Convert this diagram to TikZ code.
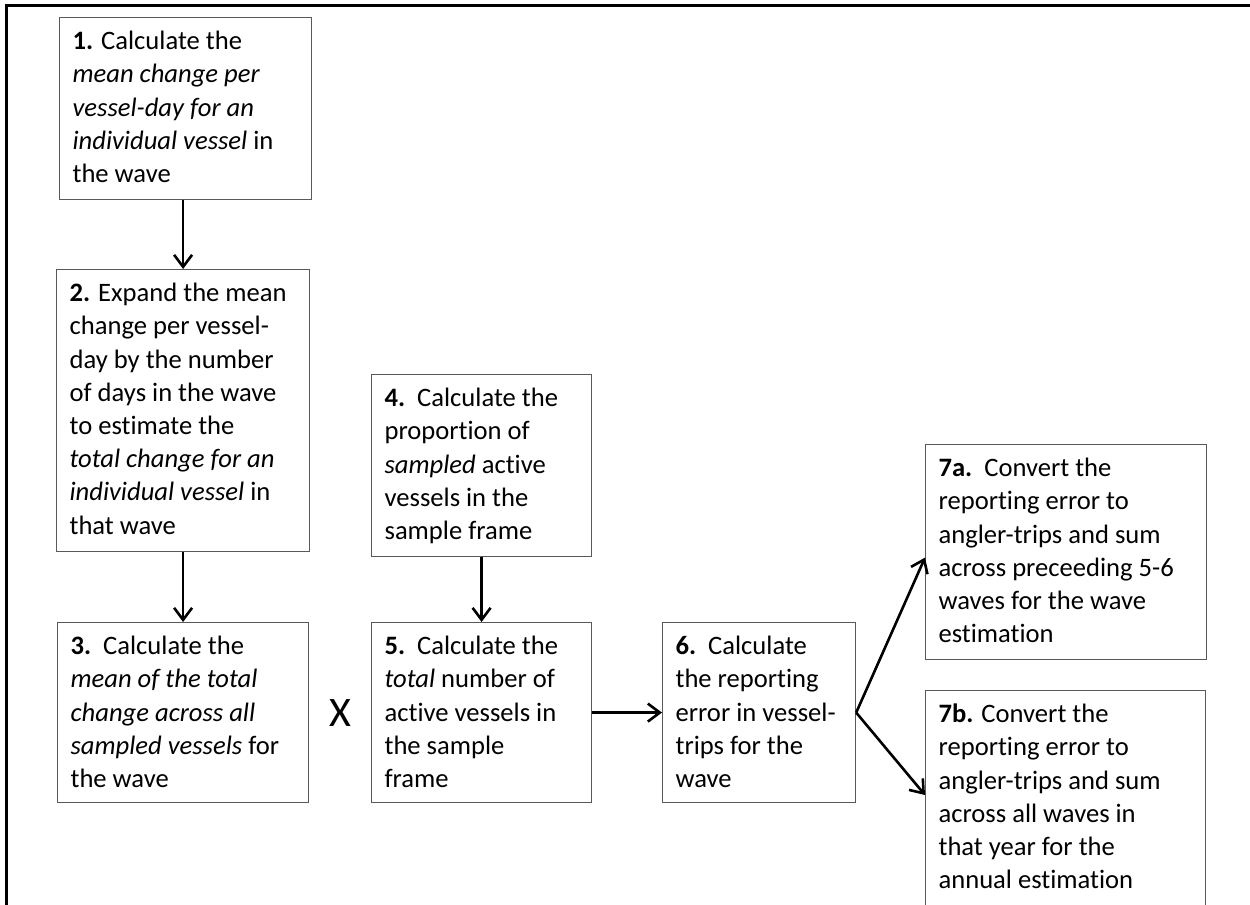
\documentclass[tikz,border=0pt]{standalone}
\usepackage{fontspec}
\setmainfont{Carlito}[Ligatures={TeX,CommonOff}]
\usetikzlibrary{arrows.meta,calc}
\tikzset{
  fbox/.style={draw=black!65, line width=0.6pt, inner xsep=6.5pt, inner ysep=0pt,
    font=\fontsize{13.3}{16.6}\selectfont},
  arr/.style={line width=1.3pt, -{Straight Barb[length=6pt,width=9pt]}},
  frame/.style={line width=1.5pt},
  mult/.style={font=\fontsize{21}{24}\selectfont, inner sep=0pt}
}
\newcommand{\flowbox}[6]{%
  \node[fbox, anchor=north west] (#1) at (#2,#3)
    {\parbox[t][#5][t]{\dimexpr#4-13pt\relax}{\raggedright\rule{0pt}{16pt}#6}};}
\begin{document}
\begin{tikzpicture}[x=0.5pt,y=-0.5pt]
\useasboundingbox (0,0) rectangle (1250,905);
% outer frame (open at right and bottom)
\draw[frame] (6,910) -- (6,5) -- (1255,5);

\flowbox{b1}{59}{17}{126pt}{91pt}{\textbf{1.} Calculate the\\
\textit{mean change per}\\
\textit{vessel-day for an}\\
\textit{individual vessel} in\\
the wave}

\flowbox{b2}{56}{269}{126.5pt}{141pt}{\textbf{2.} Expand the mean\\
change per vessel-\\
day by the number\\
of days in the wave\\
to estimate the\\
\textit{total change for an}\\
\textit{individual vessel} in\\
that wave}

\flowbox{b3}{57}{622}{125.5pt}{90pt}{\textbf{3.}\ \ Calculate the\\
\textit{mean of the total}\\
\textit{change across all}\\
\textit{sampled vessels} for\\
the wave}

\flowbox{b4}{371}{374}{110pt}{91pt}{\textbf{4.}\ \ Calculate the\\
proportion of\\
\textit{sampled} active\\
vessels in the\\
sample frame}

\flowbox{b5}{371}{622}{110pt}{90pt}{\textbf{5.}\ \ Calculate the\\
\textit{total} number of\\
active vessels in\\
the sample\\
frame}

\flowbox{b6}{662}{622}{96.5pt}{90pt}{\textbf{6.}\ \ Calculate\\
the reporting\\
error in vessel-\\
trips for the\\
wave}

\flowbox{b7a}{925}{444}{140.5pt}{107.5pt}{\textbf{7a.}\ \ Convert the\\
reporting error to\\
angler-trips and sum\\
across preceeding 5-6\\
waves for the wave\\
estimation}

\flowbox{b7b}{925}{690}{140pt}{115pt}{\textbf{7b.} Convert the\\
reporting error to\\
angler-trips and sum\\
across all waves in\\
that year for the\\
annual estimation}

\node[mult] (times) at (340,713) {X};

\draw[arr] (b1.south -| b2.north) -- (b2.north);
\draw[arr] (b2.south) -- (b2.south |- b3.north);
\draw[arr] (b4.south) -- (b5.north);
\draw[arr] (b5.east) -- (b6.west);
\draw[arr] (b6.east) -- ([yshift=-2.75pt]b7a.west);
\draw[arr] (b6.east) -- ([yshift=-52.5pt]b7b.north west);
\end{tikzpicture}
\end{document}
